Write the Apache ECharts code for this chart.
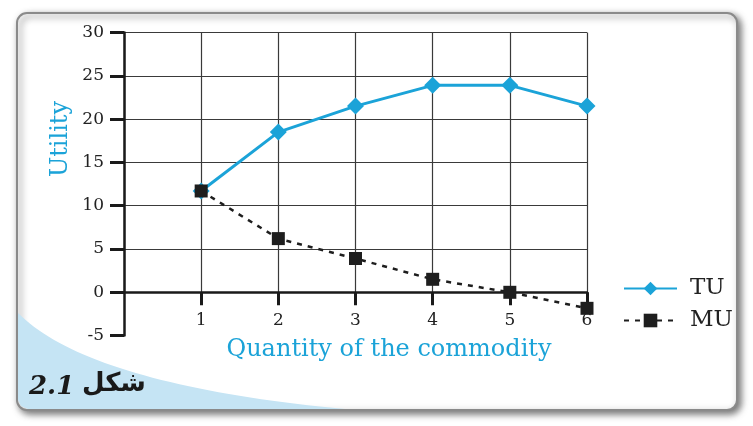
<!DOCTYPE html>
<html>
<head>
<meta charset="utf-8">
<script src="https://cdn.jsdelivr.net/npm/echarts@6/dist/echarts.min.js"></script>
<style>
html,body{margin:0;padding:0;background:#ffffff;}
#chart{width:753px;height:426px;}
</style>
</head>
<body>
<div id="chart"></div>
<script>
// ---- data ----
const quantities = [1, 2, 3, 4, 5, 6];
const tuValues = [11.7, 18.5, 21.5, 23.9, 23.9, 21.5];
const muValues = [11.7, 6.2, 3.9, 1.5, 0, -1.85];
const yTicks = [-5, 0, 5, 10, 15, 20, 25, 30];
const xTicks = [0, 1, 2, 3, 4, 5, 6];
const seriesNames = ['TU', 'MU'];
const xTitle = 'Quantity of the commodity';
const yTitle = 'Utility';
const figLabelNum = '2.1';
const figLabelWord = 'شکل';

const SERIF = '"DejaVu Serif", "Liberation Serif", serif';
const CYAN = '#1ba3d8';
const GRID = { left: 124, right: 166, top: 32.5 };
const Y0 = 292.3, YM5 = 335.6;

// decorative light-blue corner shape (quadratic curve sampled)
function cornerShape() {
  const p0 = [18, 313], p1 = [90, 385], p2 = [345, 409];
  const pts = [];
  for (let i = 0; i <= 40; i++) {
    const t = i / 40, a = (1 - t) * (1 - t), b = 2 * (1 - t) * t, c = t * t;
    pts.push([a * p0[0] + b * p1[0] + c * p2[0], a * p0[1] + b * p1[1] + c * p2[1]]);
  }
  pts.push([28, 409], [21, 406], [18, 400]);
  return pts;
}

const chart = echarts.init(document.getElementById('chart'), null, {renderer: 'canvas'});

const option = {
  backgroundColor: '#ffffff',
  animation: false,
  grid: [
    { left: GRID.left, right: GRID.right, top: GRID.top, bottom: 426 - YM5 },
    { left: GRID.left, right: GRID.right, top: GRID.top, bottom: 426 - Y0 }
  ],
  xAxis: [
    {
      type: 'value', gridIndex: 0,
      min: xTicks[0], max: xTicks[xTicks.length - 1], interval: 1,
      show: false
    },
    {
      type: 'value', gridIndex: 1, position: 'bottom',
      min: xTicks[0], max: xTicks[xTicks.length - 1], interval: 1,
      axisLine: { show: true, onZero: false, lineStyle: { color: '#1a1a1a', width: 2.5 } },
      axisTick: { show: true, length: 13, lineStyle: { color: '#1a1a1a', width: 3 } },
      axisLabel: { showMinLabel: false, margin: 20, color: '#222', fontFamily: SERIF, fontSize: 17 },
      splitLine: { show: true, lineStyle: { color: '#3a3a3a', width: 1.2 } }
    }
  ],
  yAxis: [
    {
      type: 'value', gridIndex: 0,
      min: yTicks[0], max: yTicks[yTicks.length - 1], interval: 5,
      axisLine: { show: true, lineStyle: { color: '#1a1a1a', width: 2.5 } },
      axisTick: { show: true, length: 14, lineStyle: { color: '#1a1a1a', width: 3 } },
      axisLabel: { margin: 20, color: '#222', fontFamily: SERIF, fontSize: 17 },
      splitLine: { show: false }
    },
    {
      type: 'value', gridIndex: 1,
      min: 0, max: yTicks[yTicks.length - 1], interval: 5,
      axisLine: { show: false }, axisTick: { show: false }, axisLabel: { show: false },
      splitLine: { show: true, lineStyle: { color: '#3a3a3a', width: 1.2 } }
    }
  ],
  legend: {
    orient: 'vertical',
    left: 618, top: 272,
    itemWidth: 53, itemHeight: 17, itemGap: 9,
    textStyle: { fontFamily: SERIF, fontSize: 23, color: '#222', padding: [0, 0, 0, 8] },
    data: seriesNames
  },
  series: [
    {
      name: seriesNames[0], type: 'line', xAxisIndex: 0, yAxisIndex: 0,
      data: quantities.map((q, i) => [q, tuValues[i]]),
      symbol: 'diamond', symbolSize: 17,
      itemStyle: { color: CYAN },
      lineStyle: { color: CYAN, width: 3 },
      z: 3
    },
    {
      name: seriesNames[1], type: 'line', xAxisIndex: 0, yAxisIndex: 0,
      data: quantities.map((q, i) => [q, muValues[i]]),
      symbol: 'rect', symbolSize: 13,
      itemStyle: { color: '#1e1e1e' },
      lineStyle: { color: '#1e1e1e', width: 2.5, type: [5, 6] },
      z: 4
    }
  ],
  graphic: [
    {
      type: 'rect', z: -10, silent: true,
      shape: { x: 17, y: 13, width: 720, height: 397, r: 10 },
      style: { fill: '#ffffff', stroke: '#8a8a8a', lineWidth: 2,
        shadowBlur: 7, shadowColor: 'rgba(0,0,0,0.55)', shadowOffsetX: 3, shadowOffsetY: 3 }
    },
    {
      type: 'polygon', z: -9, silent: true,
      shape: { points: cornerShape() },
      style: { fill: '#c5e4f4' }
    },
    {
      type: 'text', z: 5, silent: true,
      x: 61, y: 139, rotation: Math.PI / 2,
      style: { text: yTitle, fill: CYAN, font: '24px ' + SERIF, align: 'center', verticalAlign: 'middle' }
    },
    {
      type: 'text', z: 5, silent: true,
      x: 389, y: 350,
      style: { text: xTitle, fill: CYAN, font: '24px ' + SERIF, align: 'center', verticalAlign: 'middle' }
    },
    {
      type: 'text', z: 5, silent: true,
      x: 29, y: 387,
      style: { text: figLabelNum, fill: '#1a1a1a', font: 'italic bold 26px ' + SERIF, align: 'left', verticalAlign: 'middle' }
    },
    {
      type: 'text', z: 5, silent: true,
      x: 82, y: 384,
      style: { text: figLabelWord, fill: '#1a1a1a', font: 'bold 26px "DejaVu Sans", "Noto Sans", sans-serif', align: 'left', verticalAlign: 'middle' }
    }
  ]
};
chart.setOption(option);
</script>
</body>
</html>
